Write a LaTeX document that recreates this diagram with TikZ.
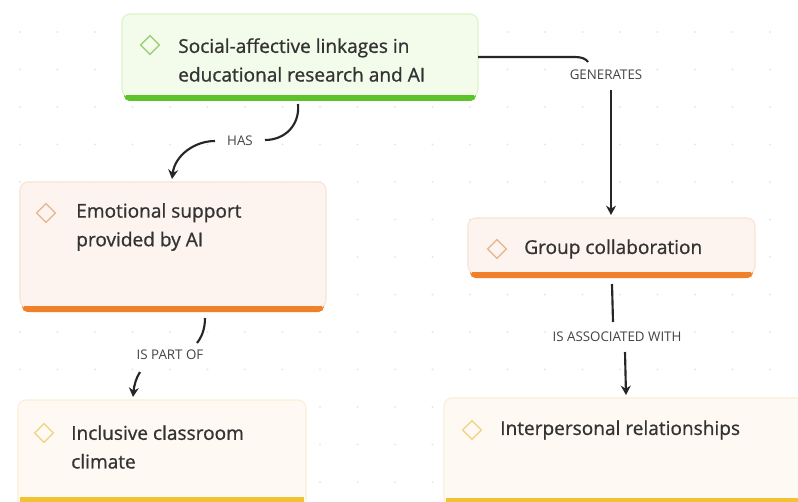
\documentclass[tikz,border=0pt]{standalone}
\usepackage{fontspec}
\setmainfont{Open Sans}
\newfontfamily\cardfont{Open Sans}[FakeBold=0.9]
\usetikzlibrary{arrows.meta}
\definecolor{txt}{HTML}{333333}
\definecolor{labtxt}{HTML}{444444}
\definecolor{greenfill}{HTML}{F3FCEA}
\definecolor{greenline}{HTML}{DDF3C8}
\definecolor{greenbar}{HTML}{5CC42A}
\definecolor{orangefill}{HTML}{FDF4EF}
\definecolor{orangeline}{HTML}{FAE3D3}
\definecolor{orangebar}{HTML}{F0802A}
\definecolor{yellowfill}{HTML}{FEF9F2}
\definecolor{yellowline}{HTML}{FAEFD6}
\definecolor{yellowbar}{HTML}{F2C233}
\definecolor{greendia}{HTML}{9ED07A}
\definecolor{orangedia}{HTML}{E8B995}
\definecolor{yellowdia}{HTML}{F1D68A}
\definecolor{griddot}{HTML}{E8E8E8}
\tikzset{
  card/.style={rounded corners=6pt, line width=0.8pt},
  dia/.style={draw, line width=1pt, minimum size=10pt, inner sep=0pt, shape=rectangle, rotate=45},
  ntext/.style={anchor=west, text=txt, font=\cardfont\fontsize{14.3}{21.5}\selectfont, align=left, inner sep=0pt},
  lab/.style={text=labtxt, font=\fontsize{10}{12}\selectfont, inner sep=1pt},
  conn/.style={draw=black!85, line width=1.6pt},
  arr/.style={conn, -{Stealth[length=7pt,width=7.5pt]}},
}
\begin{document}
\begin{tikzpicture}[x=0.75pt,y=-0.75pt]
\useasboundingbox (0,0) rectangle (798,502);
\fill[white] (0,0) rectangle (798,502);
% dot grid
\foreach \i in {0,...,21}{\foreach \j in {0,...,12}{
  \fill[griddot] ({20+37.5*\i},{32+37.5*\j}) circle (1.1);
}}
% root card
\fill[greenbar, rounded corners=4pt] (124,90) rectangle (476,101);
\filldraw[card, fill=greenfill, draw=greenline] (122,14) rectangle (478,97);
\fill[greenbar] (126,95) rectangle (474,98.5);
\node[dia, draw=greendia] (d1) at (150,45) {};
\node[ntext] (root) at (178,60) {Social-affective linkages in\\educational research and AI};
% emotional card
\fill[orangebar, rounded corners=4pt] (22,300) rectangle (324,312);
\filldraw[card, fill=orangefill, draw=orangeline] (20,182) rectangle (326,308);
\fill[orangebar] (24,306) rectangle (322,309.5);
\node[dia, draw=orangedia] (d2) at (46,213) {};
\node[ntext] (emo) at (76,227) {Emotional support\\provided by AI};
% group card
\fill[orangebar, rounded corners=4pt] (470,266) rectangle (753,278);
\filldraw[card, fill=orangefill, draw=orangeline] (468,218) rectangle (755,274);
\fill[orangebar] (472,272) rectangle (751,275.5);
\node[dia, draw=orangedia] (d3) at (497,249) {};
\node[ntext] (grp) at (524,249) {Group collaboration};
% inclusive card
\filldraw[card, fill=yellowfill, draw=yellowline] (18,400) rectangle (306,520);
\fill[yellowbar] (20,497) rectangle (304,502);
\node[dia, draw=yellowdia] (d4) at (44,433) {};
\node[ntext] (inc) at (71,447) {Inclusive classroom\\climate};
% interpersonal card
\filldraw[card, fill=yellowfill, draw=yellowline] (444,398) rectangle (820,520);
\fill[yellowbar] (446,498) rectangle (798,502);
\node[dia, draw=yellowdia] (d5) at (472,430) {};
\node[ntext] (ipr) at (500,430) {Interpersonal relationships};
% named anchor coordinates
\coordinate (hasA) at (298,104);
\coordinate (hasB) at (265,140);
\coordinate (hasC) at (215,141);
\coordinate (hasD) at (172,179);
\coordinate (genA) at (478,57);
\coordinate (genB) at (588,62);
\coordinate (genC) at (611,90);
\coordinate (genD) at (611,215);
\coordinate (parA) at (205,318);
\coordinate (parB) at (197,343);
\coordinate (parC) at (140,372);
\coordinate (parD) at (133,397);
\coordinate (assA) at (612,284);
\coordinate (assB) at (613,322);
\coordinate (assC) at (625,352);
\coordinate (assD) at (626,395);
% labels
\node[lab] (lhas) at (240,141) {HAS};
\node[lab] (lgen) at (606,75) {GENERATES};
\node[lab] (lpar) at (170,355) {IS PART OF};
\node[lab] (lass) at (617,337) {IS ASSOCIATED WITH};
% connectors
\draw[conn] (hasA) .. controls (300,125) and (285,140) .. (hasB);
\draw[arr] (hasC) .. controls (195,141) and (175,155) .. (hasD);
\draw[conn] (genA) -- (575,57) .. controls (582,57) and (586,59) .. (genB);
\draw[arr] (genC) -- (genD);
\draw[conn] (parA) .. controls (205,330) and (201,338) .. (parB);
\draw[arr] (parC) .. controls (136,378) and (134,386) .. (parD);
\draw[conn] (assA) -- (assB);
\draw[arr] (assC) -- (assD);
\end{tikzpicture}
\end{document}
